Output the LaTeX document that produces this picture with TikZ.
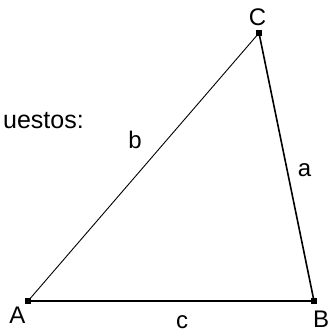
\documentclass[tikz,border=0pt]{standalone}
\usepackage{fontspec}
\setmainfont{Liberation Sans}
\begin{document}
\begin{tikzpicture}[x=1pt,y=-1pt,
  vertex/.style={fill=black,inner sep=0pt,minimum size=6pt,shape=rectangle},
  lbl/.style={inner sep=0pt,font=\fontsize{24}{28}\selectfont},
  thinedge/.style={line width=0.9pt},
  thickedge/.style={line width=1.6pt}]
\useasboundingbox (0,0) rectangle (328,332);
\node[vertex] (A) at (28,301) {};
\node[vertex] (B) at (314,301) {};
\node[vertex] (C) at (259,33) {};
\draw[thinedge] (A.center) -- (C.center);
\draw[thickedge] (C.center) -- (B.center);
\draw[thickedge] (A.center) -- (B.center);
\node[lbl,anchor=base] (lC) at (257.5,25) {C};
\node[lbl,anchor=base] (lA) at (17.5,323) {A};
\node[lbl,anchor=base west] (lB) at (313,327) {B};
\node[lbl,anchor=base] (lb) at (135,148) {b};
\node[lbl,anchor=base] (la) at (304.5,176) {a};
\node[lbl,anchor=base] (lc) at (182,328) {c};
\node[inner sep=0pt,anchor=base east,font=\fontsize{25}{30}\selectfont] (t) at (84,128) {uestos:};
\end{tikzpicture}
\end{document}
